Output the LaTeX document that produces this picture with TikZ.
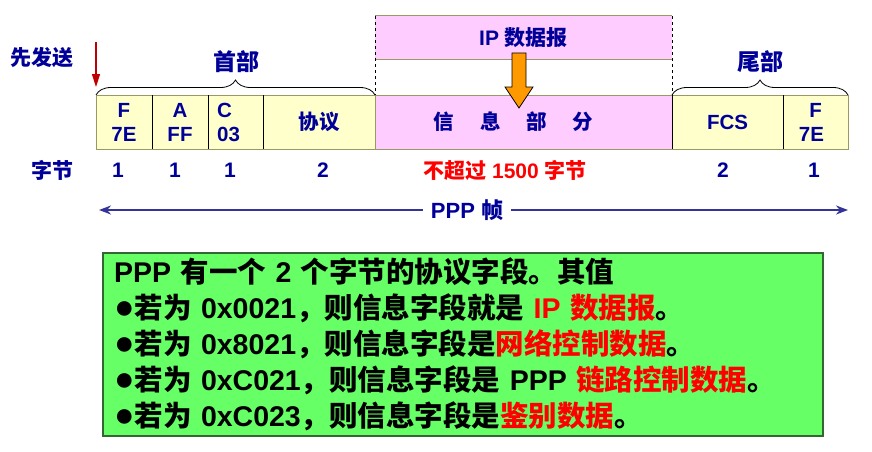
\documentclass[tikz,border=0pt]{standalone}
\usepackage{fontspec}
\setmainfont{Liberation Sans}
\newfontfamily\latinfont{Liberation Sans}
\newfontfamily\cjkfont{Noto Sans CJK SC}
\usetikzlibrary{positioning,decorations.pathreplacing,arrows.meta}

% switch to the CJK font for Chinese characters and punctuation
\XeTeXinterchartokenstate=1
\newXeTeXintercharclass\cjkclass
\newcount\cjkcode
\newcommand\cjkrange[2]{%
  \cjkcode=#1
  \loop \XeTeXcharclass\cjkcode=\cjkclass
    \ifnum\cjkcode<#2 \advance\cjkcode by 1 \repeat}
\cjkrange{"3000}{"303F}
\cjkrange{"4E00}{"9FFF}
\cjkrange{"FF00}{"FFEF}
\XeTeXcharclass"25CF=0
\XeTeXinterchartoks 0 \cjkclass = {\cjkfont}
\XeTeXinterchartoks 4095 \cjkclass = {\cjkfont}
\XeTeXinterchartoks \cjkclass 0 = {\latinfont}
\XeTeXinterchartoks \cjkclass 4095 = {\latinfont}

\newcommand\bulletdot{{\fontsize{34}{36}\selectfont ●}}

\definecolor{navytext}{RGB}{0,0,153}
\definecolor{cellfill}{RGB}{255,255,204}
\definecolor{cellline}{RGB}{153,153,102}
\definecolor{pinkfill}{RGB}{255,204,255}
\definecolor{blockorange}{RGB}{255,153,0}
\definecolor{sendred}{RGB}{192,0,0}
\definecolor{framecol}{RGB}{51,51,153}
\definecolor{greenfill}{RGB}{102,255,102}
\definecolor{greenline}{RGB}{51,102,51}

\begin{document}
\begin{tikzpicture}[
    x=1pt, y=-1pt,
    every node/.style={font=\bfseries},
    cell/.style={rectangle, draw=cellline, fill=cellfill, line width=1pt, outer sep=0pt,
        minimum height=54pt, inner sep=0pt, align=center, text=navytext,
        font=\bfseries\fontsize{20.5}{24}\selectfont},
    label/.style={text=navytext, font=\bfseries\fontsize{21}{25}\selectfont},
    part/.style={text=navytext, font=\bfseries\fontsize{23}{27}\selectfont},
    divider/.style={black, line width=1pt},
    brace/.style={decorate, decoration={brace, amplitude=15pt}, line width=0.8pt},
    framearrow/.style={-{Stealth[length=12pt,width=9pt]}, framecol, line width=2pt},
    note/.style={rectangle, draw=greenline, fill=greenfill, line width=1.5pt,
        text width=698pt, inner xsep=11pt, minimum height=183pt, align=left,
        font=\bfseries\fontsize{28.5}{36}\selectfont}
]
    \useasboundingbox (0,0) rectangle (872,452);

    % frame fields
    \node[cell, minimum width=56pt] (f1) at (124,122) {F\\7E};
    \node[cell, minimum width=56pt, right=0pt of f1] (addr) {A\\FF};
    \node[cell, minimum width=55pt, right=0pt of addr, align=left] (ctrl) {C\\03\hspace*{14pt}};
    \node[cell, minimum width=112pt, right=0pt of ctrl] (proto) {\raisebox{-5pt}{协议}};
    \node[cell, fill=pinkfill, minimum width=297pt, right=0pt of proto] (info)
        {\raisebox{-5pt}{信\hspace{26pt}息\hspace{26pt}部\hspace{26pt}分\hspace{20pt}}};
    \node[cell, minimum width=111pt, right=0pt of info] (fcs) {\raisebox{-5pt}{FCS}};
    \node[cell, minimum width=65pt, right=0pt of fcs] (f2) {F\\7E\hspace*{8pt}};
    \foreach \c in {f1,addr,ctrl,info,fcs}
        \draw[divider] (\c.north east) -- (\c.south east);

    % IP datagram above the information field
    \node[cell, draw=none, fill=pinkfill, minimum width=297pt, minimum height=44pt,
        font=\bfseries\fontsize{21}{25}\selectfont] (ipdg) at (523.5,38) {IP 数据报};
    \draw[cellline, line width=1pt] (ipdg.north west) -- (ipdg.north east);
    \draw[cellline, line width=1pt] (ipdg.south west) -- (ipdg.south east);
    \draw[dashed, line width=0.6pt] (ipdg.north west) -- (info.north west);
    \draw[dashed, line width=0.6pt] (ipdg.north east) -- (info.north east);
    \filldraw[fill=blockorange, draw=black, line width=0.8pt]
        (512,53) -- (526,53) -- (526,87) -- (533,87) -- (519,108) -- (505,87) -- (512,87) -- cycle;

    % header and trailer
    \draw[brace] (f1.north west) -- (proto.north east);
    \draw[brace] (fcs.north west) -- (f2.north east);
    \node[part] (head) at (236,62) {首部};
    \node[part] (tail) at (760,62) {尾部};

    % sending order
    \node[label] (send) at (42,58) {先发送};
    \coordinate (sendtop) at (96,42);
    \coordinate (sendtip) at (96,87);
    \draw[-{Triangle[length=13pt,width=8pt]}, sendred, line width=1.5pt] (sendtop) -- (sendtip);

    % byte counts
    \node[label] (bytes) at (52,170) {字节};
    \node[label] (b1) at (118,170) {1};
    \node[label] (b2) at (175,170) {1};
    \node[label] (b3) at (230,170) {1};
    \node[label] (b4) at (323,170) {2};
    \node[label, text=red] (b5) at (505,170) {不超过 1500 字节};
    \node[label] (b6) at (723,170) {2};
    \node[label] (b7) at (814,170) {1};

    % whole frame
    \node[part, font=\bfseries\fontsize{22}{26}\selectfont, inner xsep=8pt] (frame) at (467,210) {PPP 帧};
    \coordinate (frameL) at (99,210);
    \coordinate (frameR) at (848,210);
    \draw[framearrow] (frame) -- (frameL);
    \draw[framearrow] (frame) -- (frameR);

    % protocol field values
    \node[note] (values) at (463,344.5) {PPP 有一个 2 个字节的协议字段。其值\\
        \bulletdot 若为 0x0021，则信息字段就是 \textcolor{red}{IP 数据报}。\\
        \bulletdot 若为 0x8021，则信息字段是\textcolor{red}{网络控制数据}。\\
        \bulletdot 若为 0xC021，则信息字段是 PPP \textcolor{red}{链路控制数据}。\\
        \bulletdot 若为 0xC023，则信息字段是\textcolor{red}{鉴别数据}。};
\end{tikzpicture}
\end{document}
